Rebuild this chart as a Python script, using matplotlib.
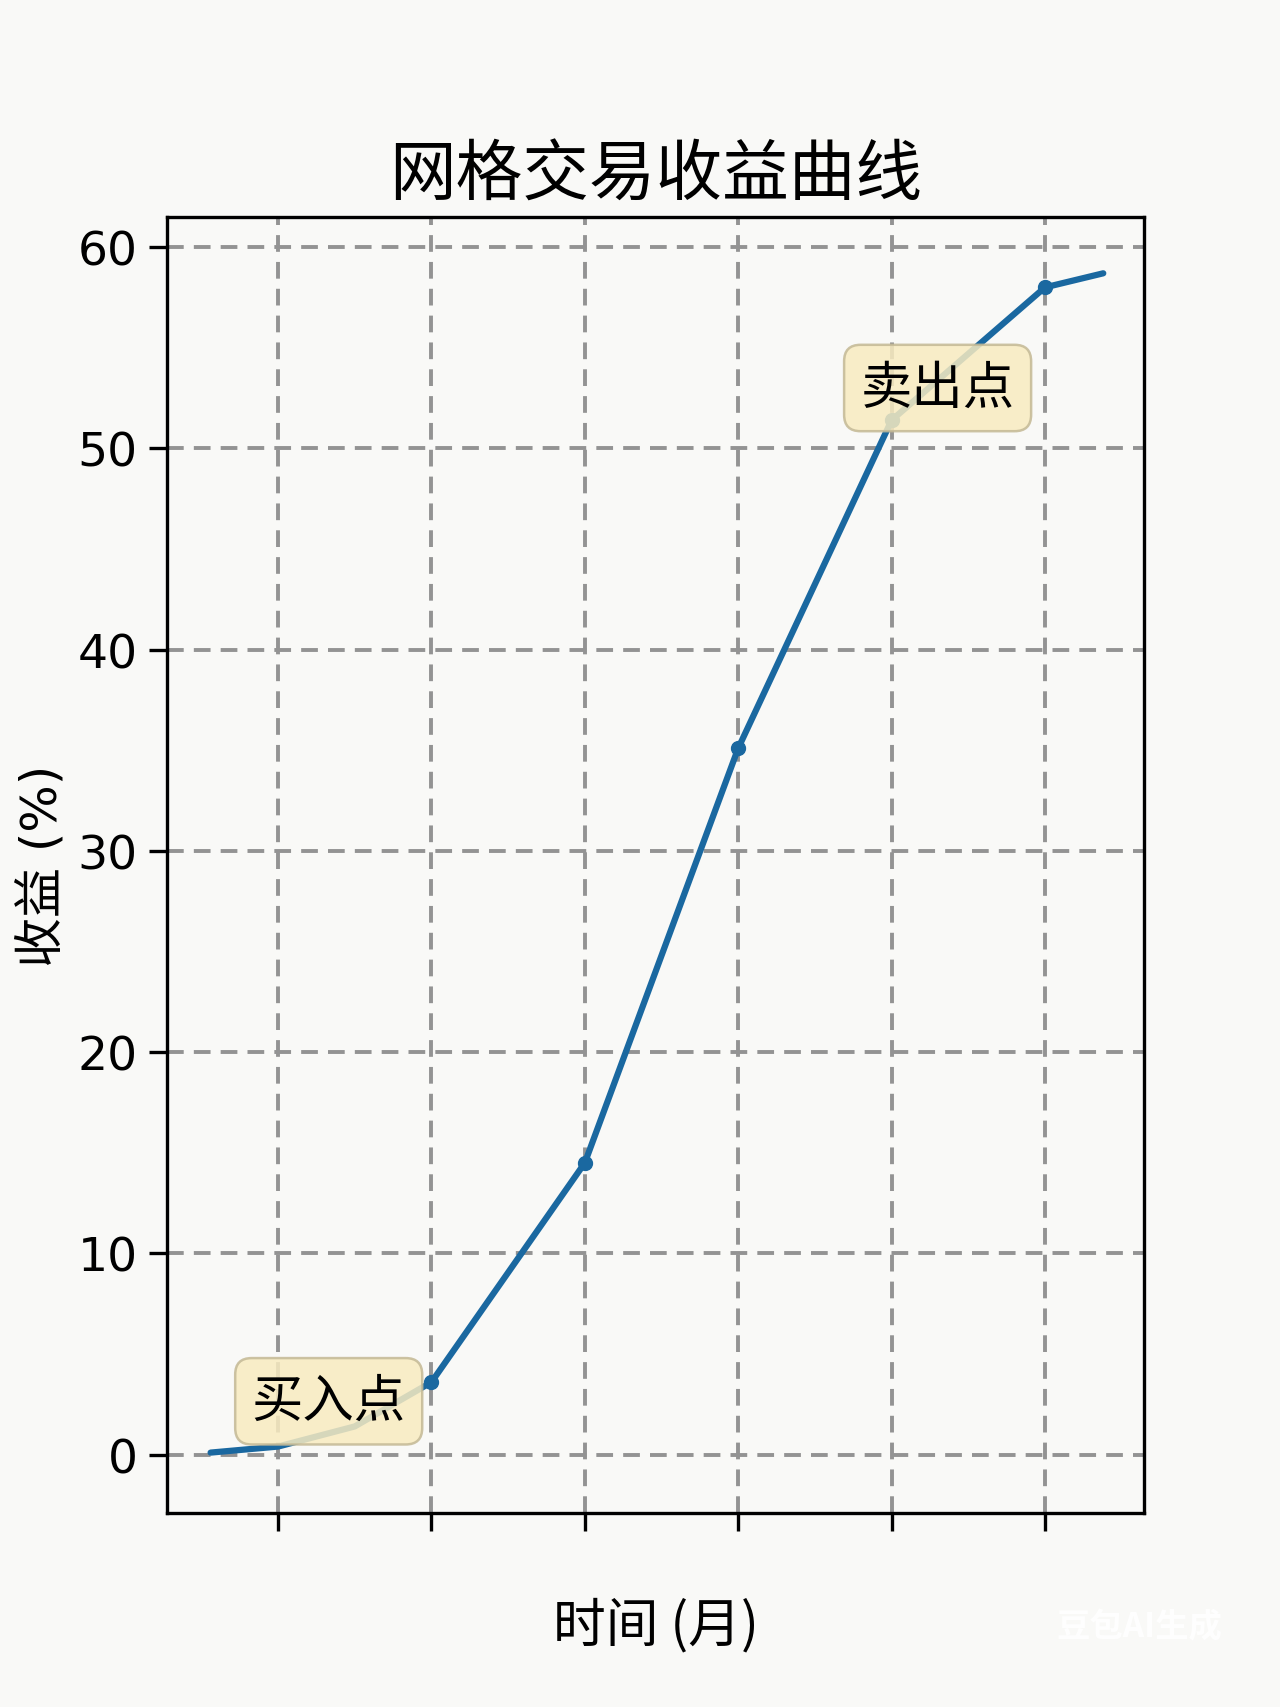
import numpy as np
import matplotlib.pyplot as plt

# 网格交易收益曲线 - data
months = [0.56, 1.0, 1.5, 2.0, 3.0, 4.0, 5.0, 6.0, 6.38]
returns = [0.1, 0.4, 1.4, 3.6, 14.5, 35.1, 51.4, 58.0, 58.7]
marker_idx = [3, 4, 5, 6, 7]
tick_pos = [1, 2, 3, 4, 5, 6]
y_ticks = [0, 10, 20, 30, 40, 50, 60]

notes = ['买入点', '卖出点']
note_x = [1.33, 5.30]
note_y = [2.65, 53.0]

plt.rcParams['font.family'] = ['DejaVu Sans', 'Noto Sans CJK SC']
bg = '#f9f9f7'
cjk = ['Noto Sans CJK SC', 'DejaVu Sans']

fig = plt.figure(figsize=(12.8, 17.08), dpi=100, facecolor=bg)
ax = fig.add_axes([0.1305, 0.1136, 0.7633, 0.7588], facecolor=bg)

ax.plot(months, returns, color='#1a68a0', linewidth=4.5, marker='o',
        markersize=10, markevery=marker_idx, solid_capstyle='round', zorder=3)

for s, x, y in zip(notes, note_x, note_y):
    ax.text(x, y, s, fontsize=37, ha='center', va='center', zorder=4,
            family=cjk,
            bbox=dict(boxstyle='round,pad=0.32', facecolor='#f8ebc0',
                      edgecolor='#c4b995', linewidth=1.8, alpha=0.85))

ax.set_xlim(0.276, 6.646)
ax.set_ylim(-2.9, 61.5)
ax.set_xticks(tick_pos)
ax.set_xticklabels([])
ax.set_yticks(y_ticks)
ax.tick_params(axis='both', length=13, width=2.4, labelsize=34, pad=8)
ax.grid(True, linestyle=(0, (4.3, 2.6)), color='#939393', linewidth=2.8)
for sp in ax.spines.values():
    sp.set_linewidth(2.4)

ax.set_title('网格交易收益曲线', fontsize=48, pad=16, family=cjk)
ax.set_xlabel('时间 (月)', fontsize=38, labelpad=40, family=cjk)
ax.set_ylabel('收益 (%)', fontsize=36, labelpad=8)

fig.text(0.955, 0.047, '豆包AI生成', fontsize=24, ha='right', va='center',
         color='#ffffff', alpha=0.9, fontweight='bold', family=cjk)

fig.savefig('out.png', dpi=100, facecolor=bg)
